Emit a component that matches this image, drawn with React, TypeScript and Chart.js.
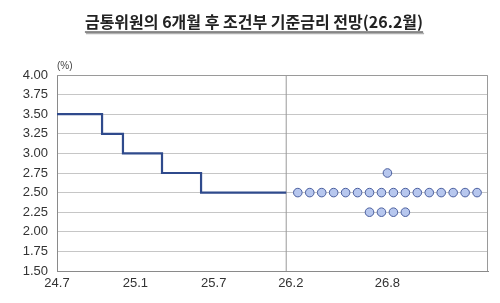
import React, { useEffect, useRef } from "react";
import { Chart, registerables } from "chart.js";

Chart.register(...registerables);

const TITLE = "금통위원의 6개월 후 조건부 기준금리 전망(26.2월)";
const UNIT = "(%)";

// x in months since Jul 2024
const rateMonths = [0, 3.45, 5.05, 8.04, 11.03, 17.55];
const rateValues = [3.5, 3.25, 3.0, 2.75, 2.5, 2.5];

const dividerMonth = 17.55;

const tickMonths = [0, 6, 12, 17.9, 25.3];
const tickLabels = ["24.7", "25.1", "25.7", "26.2", "26.8"];

// dot plot: rate levels and number of dots at each level
const dotCenterMonth = 25.3;
const dotLevels = [2.75, 2.5, 2.25];
const dotCounts = [1, 16, 4];
const DOT_STEP = 0.915;

const yMin = 1.5;
const yMax = 4.0;
const yStep = 0.25;

export default function App() {
  const ref = useRef<HTMLCanvasElement>(null);

  useEffect(() => {
    if (!ref.current) return;
    const stepData = rateMonths.map((x, i) => ({ x, y: rateValues[i] }));
    const dots: { x: number; y: number }[] = [];
    dotLevels.forEach((lvl, li) => {
      const n = dotCounts[li];
      for (let i = 0; i < n; i++) {
        dots.push({ x: dotCenterMonth + (i - (n - 1) / 2) * DOT_STEP, y: lvl });
      }
    });

    const titlePlugin = {
      id: "titleUnderline",
      afterDraw(chart: any) {
        const ctx = chart.ctx;
        ctx.save();
        ctx.font = "bold 16px 'Noto Sans CJK KR', sans-serif";
        ctx.textAlign = "center";
        ctx.textBaseline = "middle";
        const cx = chart.width / 2 + 4;
        const cy = 22;
        const w = ctx.measureText(TITLE).width;
        ctx.strokeStyle = "#b0b0b0";
        ctx.lineWidth = 1.5;
        ctx.beginPath();
        ctx.moveTo(cx - w / 2 + 1, cy + 11.5);
        ctx.lineTo(cx + w / 2 + 1, cy + 11.5);
        ctx.stroke();
        ctx.fillStyle = "#222";
        ctx.fillText(TITLE, cx, cy);
        ctx.strokeStyle = "#222";
        ctx.lineWidth = 1.2;
        ctx.beginPath();
        ctx.moveTo(cx - w / 2, cy + 10);
        ctx.lineTo(cx + w / 2, cy + 10);
        ctx.stroke();
        ctx.font = "10px 'Liberation Sans', Arial, sans-serif";
        ctx.fillStyle = "#444";
        ctx.textAlign = "left";
        ctx.fillText(UNIT, chart.chartArea.left, 66);
        ctx.restore();
      },
    };

    const chart = new Chart(ref.current, {
      type: "scatter",
      data: {
        datasets: [
          {
            type: "line",
            data: [
              { x: dividerMonth, y: yMin },
              { x: dividerMonth, y: yMax },
            ],
            borderColor: "#9a9a9a",
            borderWidth: 1,
            pointRadius: 0,
            order: 3,
          } as any,
          {
            type: "line",
            data: stepData,
            stepped: true,
            borderColor: "#2f4a8c",
            borderWidth: 2.2,
            pointRadius: 0,
            fill: false,
            order: 2,
          } as any,
          {
            type: "scatter",
            data: dots,
            pointRadius: 4.3,
            pointBackgroundColor: "#b7c7ee",
            pointBorderColor: "#4a5e9e",
            pointBorderWidth: 1,
            order: 1,
          },
        ],
      },
      options: {
        animation: false,
        responsive: false,
        maintainAspectRatio: false,
        layout: { padding: { top: 75, right: 12, left: 0, bottom: 0 } },
        plugins: {
          legend: { display: false },
          tooltip: { enabled: false },
          title: { display: false },
        },
        scales: {
          x: {
            type: "linear",
            min: 0,
            max: 33,
            afterBuildTicks: (axis: any) => {
              axis.ticks = tickMonths.map((v) => ({ value: v }));
            },
            afterFit: (axis: any) => {
              axis.height = 32;
            },
            ticks: {
              autoSkip: false,
              maxRotation: 0,
              padding: 5,
              color: "#333",
              font: { family: "'Liberation Sans', Arial, sans-serif", size: 13 },
              callback: (v: any) => {
                const i = tickMonths.indexOf(Number(v));
                return i >= 0 ? tickLabels[i] : "";
              },
            },
            grid: { display: false, drawTicks: false },
            border: { display: true, color: "#8a8a8a", width: 1 },
          },
          y: {
            min: yMin,
            max: yMax,
            afterBuildTicks: (axis: any) => {
              const t = [];
              for (let v = yMin; v <= yMax + 1e-9; v += yStep) t.push({ value: Math.round(v * 100) / 100 });
              axis.ticks = t;
            },
            afterFit: (axis: any) => {
              axis.width = 57;
            },
            ticks: {
              padding: 9,
              color: "#333",
              font: { family: "'Liberation Sans', Arial, sans-serif", size: 13 },
              callback: (v: any) => Number(v).toFixed(2),
            },
            grid: { color: "#c6c6c6", lineWidth: 1, drawTicks: false },
            border: { display: true, color: "#8a8a8a", width: 1 },
          },
        },
      },
      plugins: [
        titlePlugin,
        {
          id: "frame",
          afterDatasetsDraw(chart: any) {
            const { ctx, chartArea } = chart;
            ctx.save();
            ctx.strokeStyle = "#9a9a9a";
            ctx.lineWidth = 1;
            ctx.beginPath();
            ctx.moveTo(chartArea.left, chartArea.top + 0.5);
            ctx.lineTo(chartArea.right - 0.5, chartArea.top + 0.5);
            ctx.lineTo(chartArea.right - 0.5, chartArea.bottom);
            ctx.stroke();
            ctx.restore();
          },
        },
      ],
    } as any);
    return () => chart.destroy();
  }, []);

  return (
    <div style={{ position: "fixed", left: 0, top: 0, width: 500, height: 303, background: "#fff" }}>
      <canvas ref={ref} width={500} height={303} style={{ width: 500, height: 303 }} />
    </div>
  );
}
